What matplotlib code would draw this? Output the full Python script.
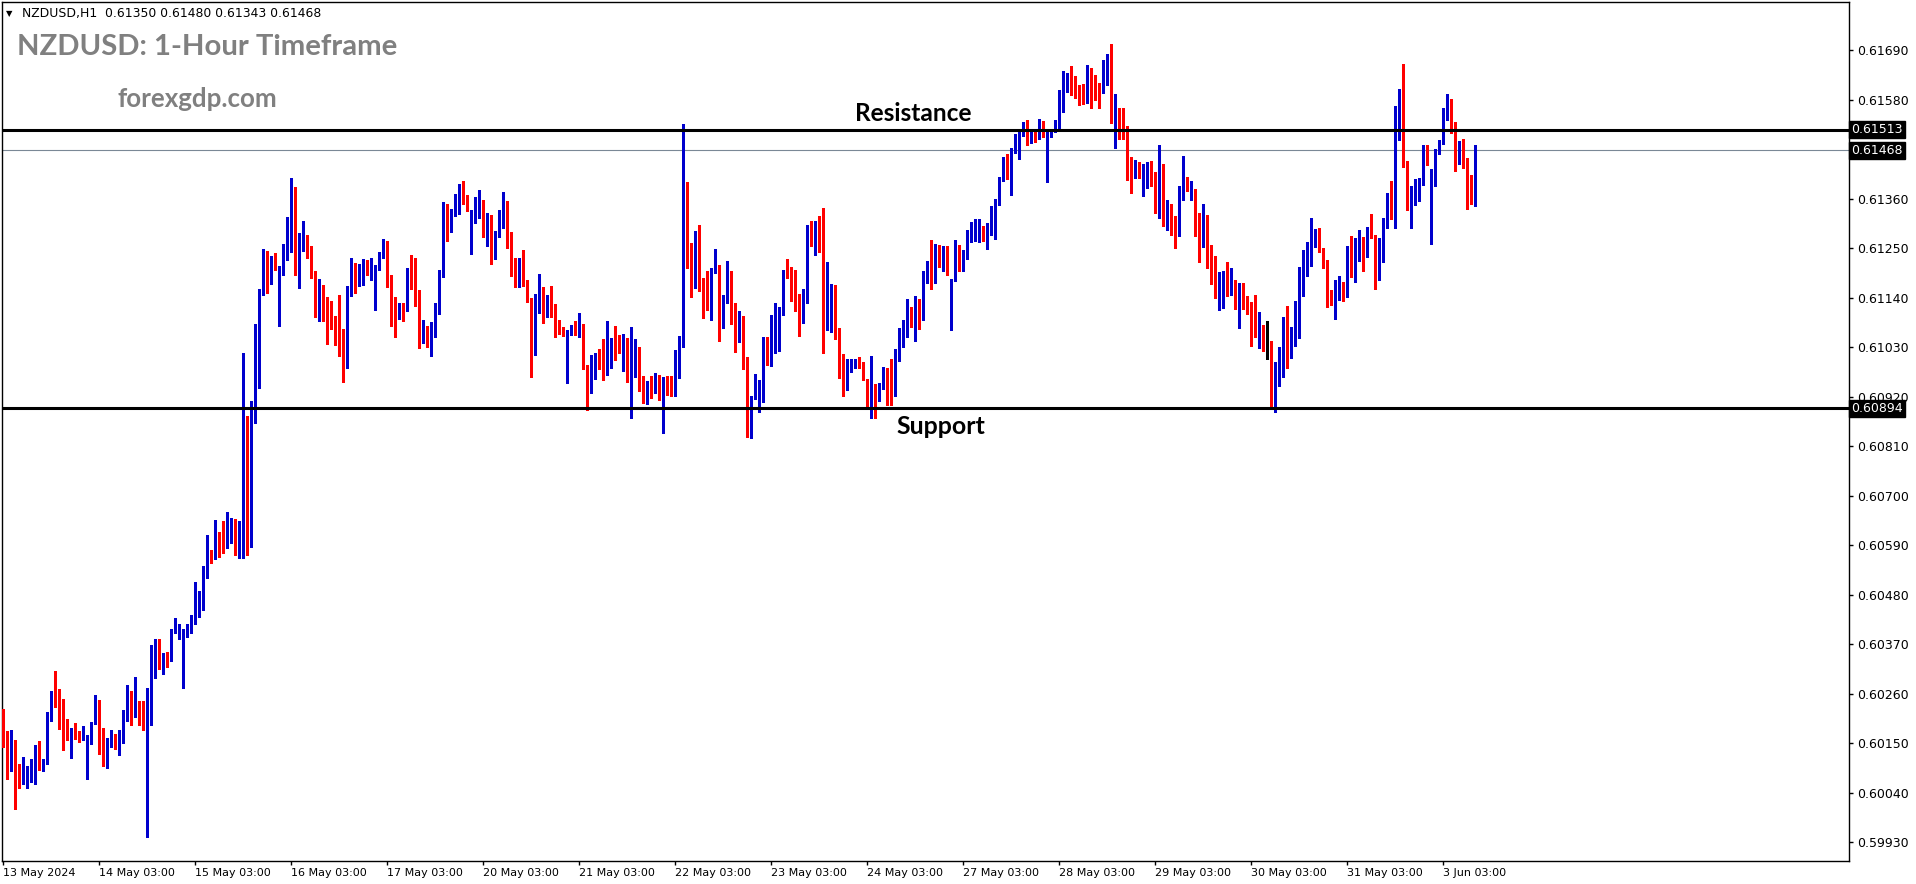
import numpy as np
import pandas as pd
import matplotlib
matplotlib.use('Agg')
import matplotlib.pyplot as plt

# NZDUSD H1 candles, 13 May 2024 03:00 -> 3 Jun 2024 11:00
opens = [
    0.60170, 0.60151, 0.60095, 0.60157, 0.60099, 0.60064, 0.60071, 0.60075, 0.60082, 0.60117,
    0.60104, 0.60106, 0.60201, 0.60259, 0.60250, 0.60246, 0.60174, 0.60166, 0.60183, 0.60174,
    0.60164, 0.60134, 0.60148, 0.60192, 0.60230, 0.60161, 0.60142, 0.60149, 0.60161, 0.60143,
    0.60172, 0.60201, 0.60263, 0.60237, 0.60241, 0.60208, 0.60192, 0.60223, 0.60361, 0.60368,
    0.60334, 0.60346, 0.60337, 0.60397, 0.60399, 0.60334, 0.60388, 0.60410, 0.60421, 0.60437,
    0.60461, 0.60528, 0.60570, 0.60564, 0.60617, 0.60612, 0.60588, 0.60634, 0.60643, 0.60595,
    0.60623, 0.60839, 0.60619, 0.60883, 0.61015, 0.61150, 0.61241, 0.61208, 0.61228, 0.61143,
    0.61192, 0.61241, 0.61290, 0.61386, 0.61237, 0.61266, 0.61277, 0.61237, 0.61190, 0.61123,
    0.61132, 0.61128, 0.61114, 0.61092, 0.61043, 0.61039, 0.61016, 0.61154, 0.61217, 0.61192,
    0.61199, 0.61217, 0.61192, 0.61181, 0.61210, 0.61230, 0.61239, 0.61177, 0.61125, 0.61099,
    0.61119, 0.61114, 0.61197, 0.61188, 0.61137, 0.61066, 0.61075, 0.61048, 0.61072, 0.61119,
    0.61194, 0.61326, 0.61292, 0.61328, 0.61341, 0.61388, 0.61359, 0.61250, 0.61306, 0.61326,
    0.61350, 0.61286, 0.61306, 0.61250, 0.61281, 0.61303, 0.61332, 0.61255, 0.61219, 0.61190,
    0.61223, 0.61179, 0.61137, 0.61012, 0.61137, 0.61143, 0.61112, 0.61126, 0.61121, 0.61086,
    0.61075, 0.61028, 0.61066, 0.61072, 0.61066, 0.61079, 0.60988, 0.60950, 0.60966, 0.61006,
    0.60997, 0.60975, 0.60997, 0.61032, 0.61026, 0.61017, 0.61048, 0.60997, 0.61006, 0.61015,
    0.60944, 0.60935, 0.60955, 0.60929, 0.60969, 0.60893, 0.60946, 0.60942, 0.60924, 0.60993,
    0.61033, 0.61373, 0.61251, 0.61177, 0.61290, 0.61182, 0.61175, 0.61144, 0.61198, 0.61211,
    0.61084, 0.61127, 0.61188, 0.61084, 0.61044, 0.61086, 0.61006, 0.60855, 0.60917, 0.60929,
    0.60949, 0.61053, 0.60993, 0.61038, 0.61097, 0.61104, 0.61200, 0.61195, 0.61151, 0.61124,
    0.61086, 0.61149, 0.61291, 0.61273, 0.61291, 0.61280, 0.61089, 0.61135, 0.61137, 0.61073,
    0.60988, 0.60949, 0.60982, 0.60986, 0.61004, 0.60988, 0.60959, 0.60935, 0.60946, 0.60924,
    0.60944, 0.60977, 0.60966, 0.60922, 0.61022, 0.61053, 0.61055, 0.61109, 0.61099, 0.61107,
    0.61091, 0.61181, 0.61189, 0.61184, 0.61255, 0.61222, 0.61233, 0.61071, 0.61180, 0.61253,
    0.61204, 0.61226, 0.61282, 0.61291, 0.61293, 0.61300, 0.61295, 0.61295, 0.61302, 0.61351,
    0.61404, 0.61453, 0.61422, 0.61468, 0.61480, 0.61500, 0.61526, 0.61486, 0.61504, 0.61493,
    0.61531, 0.61397, 0.61500, 0.61510, 0.61512, 0.61559, 0.61612, 0.61628, 0.61621, 0.61592,
    0.61583, 0.61574, 0.61646, 0.61610, 0.61601, 0.61597, 0.61630, 0.61674, 0.61543, 0.61561,
    0.61548, 0.61510, 0.61425, 0.61406, 0.61439, 0.61372, 0.61408, 0.61430, 0.61399, 0.61343,
    0.61408, 0.61299, 0.61348, 0.61308, 0.61288, 0.61359, 0.61394, 0.61377, 0.61379, 0.61326,
    0.61274, 0.61305, 0.61252, 0.61216, 0.61159, 0.61177, 0.61188, 0.61148, 0.61177, 0.61132,
    0.61172, 0.61137, 0.61130, 0.61068, 0.61059, 0.61079, 0.61043, 0.61043, 0.60942, 0.60964,
    0.61015, 0.61081, 0.61022, 0.61059, 0.61113, 0.61175, 0.61217, 0.61246, 0.61261, 0.61283,
    0.61248, 0.61221, 0.61157, 0.61099, 0.61146, 0.61172, 0.61155, 0.61248, 0.61215, 0.61235,
    0.61268, 0.61241, 0.61290, 0.61277, 0.61186, 0.61263, 0.61306, 0.61361, 0.61328, 0.61555,
    0.61581, 0.61439, 0.61346, 0.61355, 0.61379, 0.61390, 0.61470, 0.61272, 0.61408, 0.61463,
    0.61481, 0.61543, 0.61570, 0.61523, 0.61439, 0.61479, 0.61430, 0.61388, 0.61350,
]
highs = [
    0.60226, 0.60177, 0.60179, 0.60157, 0.60103, 0.60119, 0.60099, 0.60115, 0.60146, 0.60154,
    0.60115, 0.60219, 0.60266, 0.60310, 0.60270, 0.60249, 0.60203, 0.60183, 0.60194, 0.60177,
    0.60189, 0.60169, 0.60197, 0.60257, 0.60246, 0.60183, 0.60162, 0.60179, 0.60170, 0.60179,
    0.60223, 0.60280, 0.60266, 0.60297, 0.60243, 0.60243, 0.60272, 0.60368, 0.60381, 0.60381,
    0.60350, 0.60352, 0.60403, 0.60428, 0.60414, 0.60403, 0.60414, 0.60434, 0.60508, 0.60488,
    0.60543, 0.60612, 0.60579, 0.60646, 0.60619, 0.60643, 0.60663, 0.60650, 0.60648, 0.60643,
    0.61017, 0.60877, 0.60910, 0.61081, 0.61159, 0.61248, 0.61243, 0.61232, 0.61239, 0.61210,
    0.61259, 0.61319, 0.61406, 0.61386, 0.61283, 0.61310, 0.61279, 0.61254, 0.61199, 0.61181,
    0.61168, 0.61141, 0.61132, 0.61099, 0.61146, 0.61070, 0.61166, 0.61228, 0.61217, 0.61214,
    0.61226, 0.61223, 0.61228, 0.61212, 0.61241, 0.61270, 0.61266, 0.61190, 0.61141, 0.61128,
    0.61128, 0.61206, 0.61234, 0.61228, 0.61157, 0.61090, 0.61077, 0.61086, 0.61128, 0.61201,
    0.61352, 0.61348, 0.61337, 0.61370, 0.61392, 0.61399, 0.61368, 0.61334, 0.61363, 0.61379,
    0.61357, 0.61328, 0.61323, 0.61288, 0.61334, 0.61375, 0.61355, 0.61286, 0.61228, 0.61228,
    0.61246, 0.61179, 0.61139, 0.61148, 0.61192, 0.61163, 0.61146, 0.61166, 0.61126, 0.61090,
    0.61075, 0.61068, 0.61079, 0.61088, 0.61106, 0.61081, 0.60990, 0.61012, 0.61017, 0.61026,
    0.61048, 0.61088, 0.61050, 0.61077, 0.61057, 0.61059, 0.61050, 0.61075, 0.61048, 0.61030,
    0.60966, 0.60955, 0.60966, 0.60973, 0.60969, 0.60964, 0.60966, 0.60966, 0.61024, 0.61055,
    0.61526, 0.61397, 0.61262, 0.61289, 0.61302, 0.61184, 0.61200, 0.61206, 0.61249, 0.61213,
    0.61146, 0.61222, 0.61200, 0.61129, 0.61111, 0.61100, 0.61008, 0.60922, 0.60971, 0.60957,
    0.61053, 0.61053, 0.61102, 0.61129, 0.61120, 0.61202, 0.61226, 0.61209, 0.61202, 0.61149,
    0.61160, 0.61302, 0.61311, 0.61311, 0.61322, 0.61340, 0.61220, 0.61171, 0.61168, 0.61073,
    0.61015, 0.61004, 0.61003, 0.61004, 0.61009, 0.60997, 0.60959, 0.61011, 0.60948, 0.60951,
    0.60986, 0.60983, 0.61004, 0.61026, 0.61073, 0.61090, 0.61137, 0.61120, 0.61144, 0.61137,
    0.61200, 0.61222, 0.61269, 0.61260, 0.61258, 0.61255, 0.61255, 0.61182, 0.61268, 0.61258,
    0.61246, 0.61291, 0.61309, 0.61315, 0.61315, 0.61300, 0.61306, 0.61344, 0.61360, 0.61409,
    0.61453, 0.61460, 0.61473, 0.61504, 0.61513, 0.61531, 0.61535, 0.61511, 0.61511, 0.61537,
    0.61533, 0.61511, 0.61510, 0.61534, 0.61601, 0.61643, 0.61639, 0.61654, 0.61632, 0.61612,
    0.61614, 0.61657, 0.61650, 0.61634, 0.61617, 0.61668, 0.61681, 0.61703, 0.61592, 0.61561,
    0.61561, 0.61521, 0.61452, 0.61446, 0.61441, 0.61437, 0.61441, 0.61443, 0.61419, 0.61479,
    0.61437, 0.61357, 0.61348, 0.61321, 0.61388, 0.61454, 0.61408, 0.61399, 0.61381, 0.61328,
    0.61348, 0.61323, 0.61257, 0.61232, 0.61197, 0.61199, 0.61219, 0.61206, 0.61179, 0.61172,
    0.61172, 0.61144, 0.61130, 0.61146, 0.61108, 0.61079, 0.61088, 0.61043, 0.60997, 0.61030,
    0.61097, 0.61121, 0.61075, 0.61132, 0.61208, 0.61246, 0.61263, 0.61317, 0.61292, 0.61295,
    0.61250, 0.61223, 0.61157, 0.61179, 0.61188, 0.61175, 0.61255, 0.61277, 0.61272, 0.61290,
    0.61274, 0.61297, 0.61326, 0.61279, 0.61272, 0.61317, 0.61372, 0.61399, 0.61566, 0.61603,
    0.61659, 0.61443, 0.61388, 0.61403, 0.61405, 0.61479, 0.61479, 0.61426, 0.61470, 0.61490,
    0.61561, 0.61592, 0.61581, 0.61530, 0.61488, 0.61492, 0.61450, 0.61412, 0.61480,
]
lows = [
    0.60142, 0.60071, 0.60089, 0.60003, 0.60051, 0.60060, 0.60051, 0.60063, 0.60059, 0.60090,
    0.60089, 0.60104, 0.60200, 0.60231, 0.60181, 0.60134, 0.60157, 0.60117, 0.60160, 0.60152,
    0.60157, 0.60071, 0.60148, 0.60192, 0.60126, 0.60100, 0.60094, 0.60142, 0.60138, 0.60123,
    0.60150, 0.60200, 0.60190, 0.60209, 0.60190, 0.60179, 0.59942, 0.60190, 0.60294, 0.60314,
    0.60303, 0.60319, 0.60332, 0.60395, 0.60381, 0.60272, 0.60386, 0.60394, 0.60414, 0.60430,
    0.60446, 0.60517, 0.60551, 0.60560, 0.60564, 0.60573, 0.60583, 0.60594, 0.60568, 0.60562,
    0.60562, 0.60568, 0.60586, 0.60861, 0.60939, 0.61146, 0.61150, 0.61170, 0.61201, 0.61077,
    0.61190, 0.61223, 0.61241, 0.61190, 0.61161, 0.61243, 0.61228, 0.61183, 0.61097, 0.61088,
    0.61088, 0.61037, 0.61070, 0.61034, 0.61010, 0.60952, 0.60983, 0.61143, 0.61150, 0.61166,
    0.61168, 0.61190, 0.61179, 0.61112, 0.61201, 0.61228, 0.61163, 0.61077, 0.61052, 0.61092,
    0.61088, 0.61110, 0.61159, 0.61121, 0.61028, 0.61039, 0.61030, 0.61010, 0.61052, 0.61103,
    0.61186, 0.61266, 0.61286, 0.61321, 0.61326, 0.61348, 0.61332, 0.61237, 0.61306, 0.61317,
    0.61275, 0.61255, 0.61215, 0.61226, 0.61275, 0.61295, 0.61250, 0.61188, 0.61163, 0.61163,
    0.61166, 0.61130, 0.60963, 0.61012, 0.61106, 0.61083, 0.61097, 0.61097, 0.61052, 0.61059,
    0.61055, 0.60950, 0.61057, 0.61057, 0.61052, 0.60981, 0.60890, 0.60928, 0.60959, 0.60981,
    0.60957, 0.60968, 0.60983, 0.61001, 0.61017, 0.60977, 0.60952, 0.60872, 0.60964, 0.60933,
    0.60906, 0.60904, 0.60917, 0.60927, 0.60913, 0.60840, 0.60924, 0.60922, 0.60922, 0.60962,
    0.61031, 0.61206, 0.61142, 0.61162, 0.61155, 0.61095, 0.61113, 0.61091, 0.61195, 0.61044,
    0.61073, 0.61127, 0.61082, 0.61020, 0.61042, 0.60982, 0.60831, 0.60829, 0.60915, 0.60886,
    0.60908, 0.60990, 0.60988, 0.61017, 0.61022, 0.61102, 0.61184, 0.61133, 0.61111, 0.61055,
    0.61084, 0.61129, 0.61255, 0.61235, 0.61242, 0.61017, 0.61069, 0.61064, 0.61049, 0.60962,
    0.60922, 0.60935, 0.60975, 0.60984, 0.60984, 0.60957, 0.60900, 0.60873, 0.60873, 0.60911,
    0.60937, 0.60902, 0.60902, 0.60922, 0.61000, 0.61031, 0.61053, 0.61074, 0.61044, 0.61071,
    0.61091, 0.61173, 0.61160, 0.61173, 0.61209, 0.61200, 0.61191, 0.61069, 0.61178, 0.61200,
    0.61200, 0.61226, 0.61264, 0.61266, 0.61264, 0.61266, 0.61249, 0.61280, 0.61271, 0.61346,
    0.61400, 0.61404, 0.61369, 0.61462, 0.61449, 0.61500, 0.61480, 0.61484, 0.61486, 0.61493,
    0.61498, 0.61397, 0.61497, 0.61507, 0.61510, 0.61552, 0.61597, 0.61590, 0.61583, 0.61568,
    0.61570, 0.61572, 0.61561, 0.61579, 0.61561, 0.61594, 0.61612, 0.61528, 0.61472, 0.61492,
    0.61492, 0.61401, 0.61372, 0.61406, 0.61406, 0.61366, 0.61383, 0.61388, 0.61328, 0.61317,
    0.61299, 0.61290, 0.61279, 0.61250, 0.61277, 0.61357, 0.61377, 0.61357, 0.61277, 0.61219,
    0.61252, 0.61206, 0.61170, 0.61139, 0.61112, 0.61117, 0.61144, 0.61146, 0.61115, 0.61072,
    0.61115, 0.61103, 0.61032, 0.61052, 0.61028, 0.61022, 0.61004, 0.60897, 0.60886, 0.60944,
    0.60964, 0.60984, 0.61006, 0.61033, 0.61050, 0.61143, 0.61188, 0.61211, 0.61252, 0.61241,
    0.61206, 0.61119, 0.61123, 0.61092, 0.61135, 0.61133, 0.61141, 0.61186, 0.61175, 0.61221,
    0.61199, 0.61230, 0.61272, 0.61159, 0.61179, 0.61219, 0.61295, 0.61315, 0.61295, 0.61490,
    0.61430, 0.61335, 0.61295, 0.61346, 0.61355, 0.61390, 0.61435, 0.61259, 0.61388, 0.61459,
    0.61481, 0.61535, 0.61506, 0.61421, 0.61437, 0.61428, 0.61337, 0.61348, 0.61343,
]
closes = [
    0.60149, 0.60095, 0.60157, 0.60095, 0.60064, 0.60073, 0.60075, 0.60085, 0.60117, 0.60106,
    0.60108, 0.60203, 0.60257, 0.60249, 0.60246, 0.60173, 0.60166, 0.60183, 0.60173, 0.60164,
    0.60170, 0.60154, 0.60194, 0.60230, 0.60159, 0.60142, 0.60152, 0.60161, 0.60143, 0.60172,
    0.60203, 0.60266, 0.60237, 0.60241, 0.60203, 0.60192, 0.60223, 0.60363, 0.60368, 0.60334,
    0.60343, 0.60337, 0.60399, 0.60399, 0.60414, 0.60388, 0.60410, 0.60421, 0.60437, 0.60461,
    0.60528, 0.60570, 0.60564, 0.60617, 0.60612, 0.60588, 0.60634, 0.60643, 0.60595, 0.60623,
    0.60839, 0.60617, 0.60883, 0.61017, 0.61152, 0.61241, 0.61210, 0.61228, 0.61219, 0.61190,
    0.61246, 0.61292, 0.61386, 0.61237, 0.61266, 0.61277, 0.61234, 0.61186, 0.61123, 0.61132,
    0.61123, 0.61112, 0.61090, 0.61039, 0.61037, 0.61014, 0.61159, 0.61217, 0.61192, 0.61199,
    0.61217, 0.61192, 0.61226, 0.61212, 0.61237, 0.61239, 0.61172, 0.61121, 0.61099, 0.61117,
    0.61114, 0.61197, 0.61186, 0.61134, 0.61066, 0.61075, 0.61048, 0.61075, 0.61121, 0.61190,
    0.61326, 0.61292, 0.61330, 0.61343, 0.61392, 0.61357, 0.61334, 0.61308, 0.61326, 0.61350,
    0.61286, 0.61308, 0.61250, 0.61281, 0.61303, 0.61339, 0.61252, 0.61217, 0.61190, 0.61223,
    0.61175, 0.61132, 0.61012, 0.61139, 0.61143, 0.61112, 0.61128, 0.61119, 0.61083, 0.61072,
    0.61055, 0.61066, 0.61072, 0.61066, 0.61079, 0.60986, 0.60950, 0.60968, 0.61006, 0.60992,
    0.60975, 0.60999, 0.61032, 0.61021, 0.61017, 0.61048, 0.60997, 0.61008, 0.61015, 0.60942,
    0.60935, 0.60955, 0.60929, 0.60971, 0.60913, 0.60942, 0.60940, 0.60924, 0.60995, 0.61033,
    0.61373, 0.61249, 0.61175, 0.61286, 0.61182, 0.61173, 0.61144, 0.61200, 0.61211, 0.61082,
    0.61129, 0.61186, 0.61082, 0.61044, 0.61086, 0.61004, 0.60860, 0.60920, 0.60966, 0.60946,
    0.61053, 0.60993, 0.61040, 0.61100, 0.61104, 0.61200, 0.61191, 0.61146, 0.61122, 0.61089,
    0.61155, 0.61291, 0.61273, 0.61291, 0.61275, 0.61093, 0.61137, 0.61140, 0.61071, 0.60986,
    0.60949, 0.60984, 0.60992, 0.61002, 0.60986, 0.60957, 0.60937, 0.60948, 0.60900, 0.60944,
    0.60980, 0.60964, 0.60924, 0.61024, 0.61057, 0.61059, 0.61111, 0.61095, 0.61107, 0.61086,
    0.61180, 0.61189, 0.61184, 0.61258, 0.61222, 0.61233, 0.61202, 0.61180, 0.61255, 0.61206,
    0.61226, 0.61284, 0.61293, 0.61295, 0.61300, 0.61295, 0.61297, 0.61302, 0.61353, 0.61407,
    0.61453, 0.61422, 0.61471, 0.61482, 0.61502, 0.61531, 0.61484, 0.61502, 0.61493, 0.61533,
    0.61500, 0.61500, 0.61510, 0.61517, 0.61566, 0.61614, 0.61628, 0.61621, 0.61590, 0.61577,
    0.61574, 0.61646, 0.61606, 0.61603, 0.61594, 0.61632, 0.61674, 0.61541, 0.61559, 0.61548,
    0.61507, 0.61423, 0.61408, 0.61439, 0.61408, 0.61408, 0.61430, 0.61399, 0.61343, 0.61408,
    0.61299, 0.61350, 0.61303, 0.61286, 0.61361, 0.61392, 0.61377, 0.61381, 0.61326, 0.61274,
    0.61303, 0.61248, 0.61214, 0.61161, 0.61179, 0.61188, 0.61148, 0.61177, 0.61152, 0.61166,
    0.61137, 0.61128, 0.61066, 0.61061, 0.61077, 0.61042, 0.61043, 0.60942, 0.60966, 0.61017,
    0.61081, 0.61022, 0.61061, 0.61115, 0.61177, 0.61217, 0.61248, 0.61263, 0.61283, 0.61248,
    0.61219, 0.61155, 0.61146, 0.61146, 0.61172, 0.61152, 0.61248, 0.61215, 0.61237, 0.61268,
    0.61241, 0.61283, 0.61274, 0.61188, 0.61268, 0.61308, 0.61363, 0.61330, 0.61557, 0.61581,
    0.61437, 0.61346, 0.61357, 0.61381, 0.61390, 0.61472, 0.61437, 0.61397, 0.61466, 0.61483,
    0.61543, 0.61570, 0.61521, 0.61439, 0.61477, 0.61428, 0.61386, 0.61350, 0.61468,
]

resistance = 0.61513
support = 0.60894
last_price = 0.61468

y_ticks = [0.59930, 0.60040, 0.60150, 0.60260, 0.60370, 0.60480, 0.60590, 0.60700,
           0.60810, 0.60920, 0.61030, 0.61140, 0.61250, 0.61360, 0.61580, 0.61690]
tick_times = ['2024-05-14 03:00', '2024-05-15 03:00', '2024-05-16 03:00', '2024-05-17 03:00',
              '2024-05-20 03:00', '2024-05-21 03:00', '2024-05-22 03:00', '2024-05-23 03:00',
              '2024-05-24 03:00', '2024-05-27 03:00', '2024-05-28 03:00', '2024-05-29 03:00',
              '2024-05-30 03:00', '2024-05-31 03:00', '2024-06-03 03:00']
tick_labels = ['14 May 03:00', '15 May 03:00', '16 May 03:00', '17 May 03:00',
               '20 May 03:00', '21 May 03:00', '22 May 03:00', '23 May 03:00',
               '24 May 03:00', '27 May 03:00', '28 May 03:00', '29 May 03:00',
               '30 May 03:00', '31 May 03:00', '3 Jun 03:00']

# hourly bars, weekends skipped (same as the terminal)
times = pd.date_range('2024-05-13 03:00', '2024-06-03 11:00', freq='h')
times = times[times.dayofweek < 5]

W, H = 1916, 884
fig = plt.figure(figsize=(W / 100, H / 100), dpi=100)
fig.patch.set_facecolor('white')
# plot frame in pixels: left, right, top, bottom
L, R, T, B = 2, 1849, 2, 861
ax = fig.add_axes([L / W, 1 - B / H, (R - L) / W, (B - T) / H])

o = np.array(opens)
h = np.array(highs)
l = np.array(lows)
c = np.array(closes)
x = np.arange(len(c))
col = np.where(c > o, '#0000cd', np.where(c < o, '#ff0000', '#000000'))

ax.vlines(x, l, h, colors=col, linewidth=0.8, antialiased=False, zorder=3)
ax.bar(x, np.maximum(np.abs(c - o), 0.00002), width=0.88, bottom=np.minimum(o, c),
       color=col, linewidth=0, antialiased=False, zorder=3)

ax.axhline(resistance, color='black', linewidth=2.2, zorder=4)
ax.axhline(support, color='black', linewidth=2.2, zorder=4)
ax.axhline(last_price, color='#7a8896', linewidth=0.8, zorder=2)

ax.set_xlim(-0.33, -0.33 + (R - L) / 4)
ax.set_ylim(0.59888, 0.61797)

# x axis
xt = [0] + [times.get_loc(pd.Timestamp(t)) for t in tick_times]
ax.set_xticks(xt)
ax.set_xticklabels(['13 May 2024'] + tick_labels)
for lab in ax.get_xticklabels():
    lab.set_horizontalalignment('left')
ax.tick_params(axis='x', direction='out', length=3, width=1, pad=2, labelsize=8, colors='black')

# y axis on the right
ax.yaxis.tick_right()
ax.set_yticks(y_ticks)
ax.set_yticklabels([f'{v:.5f}' for v in y_ticks])
ax.tick_params(axis='y', direction='out', length=3, width=1, pad=3, labelsize=9, colors='black')

for s in ax.spines.values():
    s.set_color('black')
    s.set_linewidth(1.0)

# price boxes on the scale
for v in [resistance, last_price, support]:
    ax.annotate(f'{v:.5f}', xy=(1, v), xycoords=('axes fraction', 'data'),
                xytext=(1.5, 0), textcoords='offset points', ha='left', va='center',
                color='white', fontsize=9, annotation_clip=False, zorder=6,
                bbox=dict(boxstyle='square,pad=0.16', fc='black', ec='black'))

# text on the chart
t_res = ax.text(212.9, 0.61533, 'Resistance', family='Lato', weight='bold',
                fontsize=16, color='black', ha='left', va='baseline', zorder=5)
t_sup = ax.text(223.2, 0.60836, 'Support', family='Lato', weight='bold',
                fontsize=16, color='black', ha='left', va='baseline', zorder=5)
t_title = fig.text(17 / W, 1 - 55 / H, 'NZDUSD: 1-Hour Timeframe', family='Lato',
                   weight='bold', fontsize=20, color='#808080', ha='left', va='baseline')
t_site = fig.text(117 / W, 1 - 107 / H, 'forexgdp.com', family='Lato', weight='bold',
                  fontsize=14, color='#808080', ha='left', va='baseline')
t_head = fig.text(22 / W, 1 - 17 / H, 'NZDUSD,H1  0.61350 0.61480 0.61343 0.61468',
                  fontsize=8, color='black', ha='left', va='baseline')
fig.text(6 / W, 1 - 16 / H, '\u25bc', fontsize=6, color='black', ha='left', va='baseline')

fig.canvas.draw()
rend = fig.canvas.get_renderer()
for t, w in [(t_res, 117), (t_sup, 89), (t_title, 381), (t_site, 160), (t_head, 300)]:
    t.set_fontsize(t.get_fontsize() * w / t.get_window_extent(rend).width)

fig.savefig('out.png', dpi=100, facecolor='white')
